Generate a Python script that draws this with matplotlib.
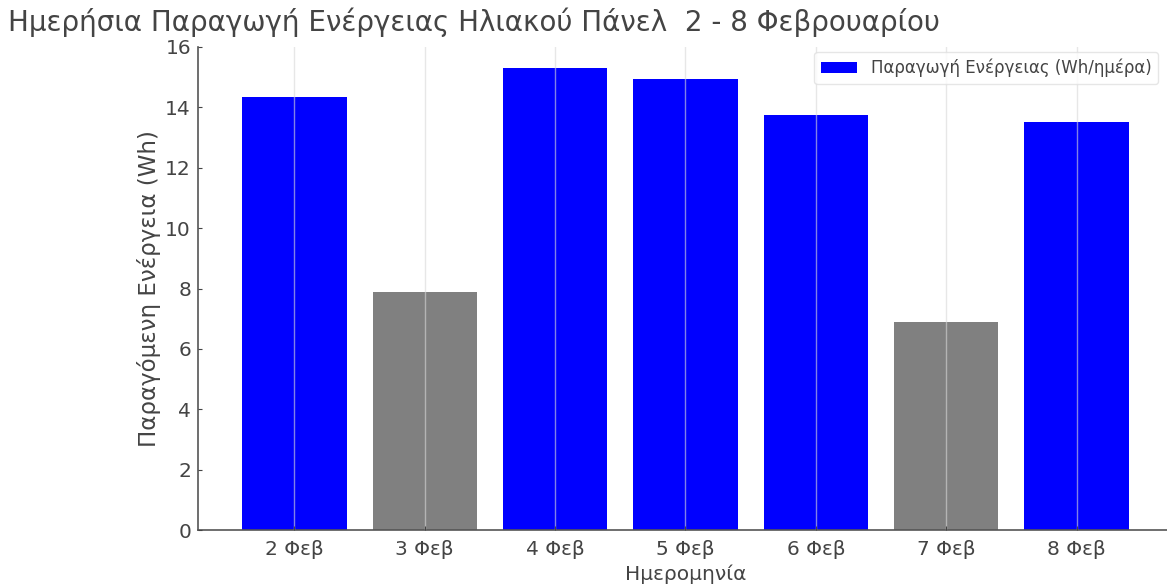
import matplotlib
matplotlib.use('Agg')
import matplotlib.pyplot as plt
import numpy as np

### Data ###
days = ['2 Φεβ', '3 Φεβ', '4 Φεβ', '5 Φεβ', '6 Φεβ', '7 Φεβ', '8 Φεβ']
energy = [14.35, 7.9, 15.3, 14.95, 13.75, 6.9, 13.5]
colors = ['blue', 'gray', 'blue', 'blue', 'blue', 'gray', 'blue']

txt = '#444444'

fig = plt.figure(figsize=(11.67, 5.86), dpi=100)
ax = fig.add_axes([198/1167, 56/586, 975/1167, 483/586])

x = np.arange(len(days))
ax.bar(x, energy, width=0.8, color=colors, label='Παραγωγή Ενέργειας (Wh/ημέρα)')

ax.set_xticks(x)
ax.set_xticklabels(days)
ax.set_yticks(np.arange(0, 17, 2))
ax.set_ylim(0, 16)
ax.set_xlim(-0.74, 6.74)

# faint vertical grid over the bars
ax.set_axisbelow(False)
ax.grid(axis='x', color='#d8d8d8', linewidth=1, alpha=0.6)

for s in ['top', 'right']:
    ax.spines[s].set_visible(False)
for s in ['left', 'bottom']:
    ax.spines[s].set_color('#555555')
    ax.spines[s].set_linewidth(1.2)
ax.tick_params(axis='both', labelsize=14.5, colors=txt, length=3, direction='in')
ax.tick_params(axis='y', pad=5)
ax.tick_params(axis='x', pad=7)

ax.set_xlabel('Ημερομηνία', fontsize=14.5, color=txt, labelpad=4)
ax.set_ylabel('Παραγόμενη Ενέργεια (Wh)', fontsize=16.5, color=txt, labelpad=3)
fig.text(8/1167, 1 - 22/586, 'Ημερήσια Παραγωγή Ενέργειας Ηλιακού Πάνελ  2 - 8 Φεβρουαρίου',
         fontsize=20, color=txt, va='center', ha='left')

leg = ax.legend(loc='upper right', fontsize=12, frameon=True, borderaxespad=0.3,
                bbox_to_anchor=(0.99, 1.0), handlelength=2.2, handleheight=0.6)
leg.get_frame().set_edgecolor('#e0e0e0')
for t in leg.get_texts():
    t.set_color(txt)

fig.savefig('out.png', dpi=100)
